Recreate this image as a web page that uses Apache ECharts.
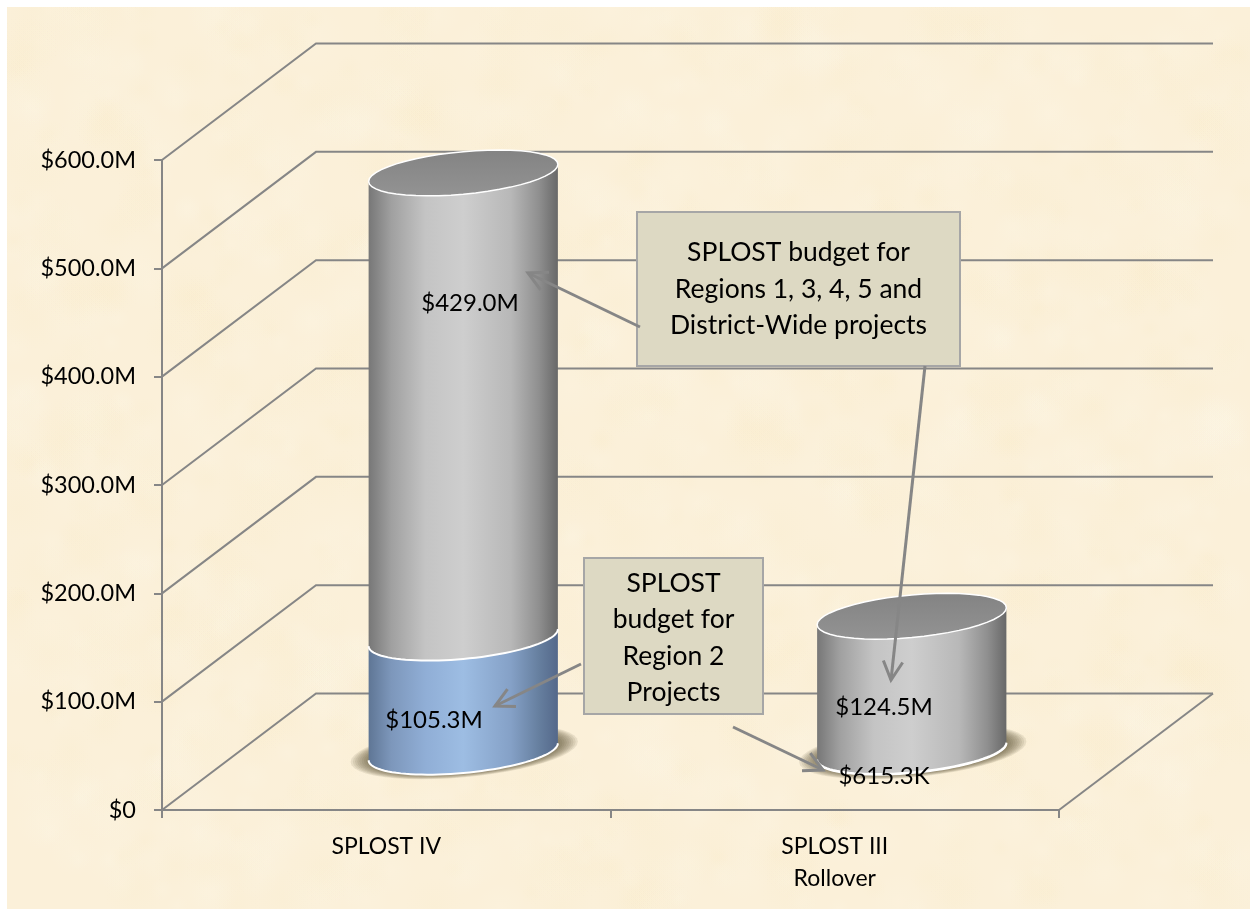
<!DOCTYPE html>
<html>
<head>
<meta charset="utf-8">
<title>SPLOST budget</title>
<script src="https://cdn.jsdelivr.net/npm/echarts@6/dist/echarts.min.js"></script>
<style>
  html, body { margin: 0; background: #fff; }
  #paper { position: absolute; left: 7px; top: 7px; width: 1243px; height: 902px; }
  #main { position: absolute; left: 0; top: 0; width: 1250px; height: 909px; }
</style>
</head>
<body>
<canvas id="paper" width="1243" height="902"></canvas>
<div id="main"></div>
<script>
const categories = ["SPLOST IV", "SPLOST III\nRollover"];
const yTicks = [0, 100, 200, 300, 400, 500, 600];
const lowerValues = [105.3, 0.6153];
const upperValues = [429.0, 124.5];

const FONT = "Lato, 'Open Sans', sans-serif";
const LINE = "#868686";
const DEPTH_X = 154;
const DEPTH_Y = 116.5;

const blueStops = ["#5f7695", "#7d97bb", "#90aed6", "#9dbde3", "#85a1c7", "#667f9f", "#54688a"];
const greyStops = ["#777777", "#a0a0a0", "#c4c4c4", "#cecece", "#b8b8b8", "#8f8f8f", "#686868"];

// parchment background, just faint blotches
function drawPaper() {
  const c = document.getElementById("paper").getContext("2d");
  c.fillStyle = "#fbf0d9";
  c.fillRect(0, 0, 1243, 902);
  let s = 12345;
  const next = () => (s = (s * 1103515245 + 12345) % 2147483648) / 2147483648;
  for (let i = 0; i < 1500; i++) {
    const x = next() * 1243, y = next() * 902, r = 10 + next() * 26;
    const g = c.createRadialGradient(x, y, 0, x, y, r);
    const col = next() > 0.5 ? "248,234,198" : "254,247,232";
    g.addColorStop(0, "rgba(" + col + ",0.16)");
    g.addColorStop(1, "rgba(" + col + ",0)");
    c.fillStyle = g;
    c.fillRect(x - r, y - r, r * 2, r * 2);
  }
}
drawPaper();

function arc(cx, cy, rx, from, to) {
  const pts = [];
  for (let i = 0; i <= 48; i++) {
    const t = from + ((to - from) * i) / 48;
    pts.push([cx + rx * Math.cos(t), cy - rx * 0.09 * Math.cos(t) + rx * 0.225 * Math.sin(t)]);
  }
  return pts;
}

function sideGradient(stops) {
  return {
    type: "linear", x: 0, y: 0, x2: 1, y2: 0,
    colorStops: [0, 0.12, 0.3, 0.5, 0.75, 0.9, 1].map((o, i) => ({ offset: o, color: stops[i] })),
  };
}

// back wall and side wall lines, one per y tick
function renderWall(params, api) {
  const p = api.coord([0, api.value(1)]);
  const x0 = params.coordSys.x;
  const x1 = x0 + params.coordSys.width;
  const children = [{
    type: "polyline",
    shape: { points: [[x0, p[1]], [x0 + DEPTH_X, p[1] - DEPTH_Y], [x1 + DEPTH_X, p[1] - DEPTH_Y]] },
    style: { stroke: LINE, lineWidth: 2, fill: null },
  }];
  if (api.value(1) === 0) {
    children.push({
      type: "line",
      shape: { x1: x1, y1: p[1], x2: x1 + DEPTH_X, y2: p[1] - DEPTH_Y },
      style: { stroke: LINE, lineWidth: 2 },
    });
  }
  return { type: "group", children };
}

function cylinder(stops, withCap) {
  return function (params, api) {
    const cat = api.value(0);
    const a = api.coord([cat, api.value(1)]);
    const b = api.coord([cat, api.value(2)]);
    const cx = a[0] + DEPTH_X / 2;
    const yBottom = a[1] - DEPTH_Y / 2;
    const yTop = b[1] - DEPTH_Y / 2;
    const rx = api.size([1, 0])[0] * 0.211;
    const low = arc(cx, yBottom, rx, 0, Math.PI);
    const high = arc(cx, yTop, rx, Math.PI, 0);
    const children = [];
    if (!withCap) {
      // soft ground shadow, stacked rings instead of a blur
      for (let i = 0; i < 10; i++) {
        children.push({
          type: "polygon",
          shape: { points: arc(cx + 1, yBottom, rx + 19 - i * 2.2, 0, Math.PI * 2) },
          style: { fill: "rgba(80,70,50,0.11)" },
        });
      }
    }
    children.push({
      type: "polygon",
      shape: { points: low.concat(high) },
      style: { fill: sideGradient(stops) },
    });
    children.push({
      type: "polyline",
      shape: { points: low },
      style: { stroke: "#fff", lineWidth: 2, fill: null },
    });
    if (withCap) {
      children.push({
        type: "polygon",
        shape: { points: arc(cx, yTop, rx, 0, Math.PI * 2) },
        style: {
          stroke: "#fff", lineWidth: 1.5,
          fill: {
            type: "linear", x: 0, y: 0, x2: 0, y2: 1,
            colorStops: [{ offset: 0, color: "#838383" }, { offset: 1, color: "#939393" }],
          },
        },
      });
    }
    return { type: "group", children };
  };
}

function calloutBox(x, y, w, h, lines, cy) {
  return [
    { type: "rect", z: 20, shape: { x, y, width: w, height: h }, style: { fill: "#ddd9c3", stroke: "#a6a6a6", lineWidth: 2 } },
    {
      type: "text", z: 21, x: x + w / 2, y: cy,
      style: { text: lines.join("\n"), font: "26.5px " + FONT, fill: "#000", align: "center", verticalAlign: "middle", lineHeight: 36.5 },
    },
  ];
}

function arrow(x1, y1, x2, y2) {
  const ang = Math.atan2(y2 - y1, x2 - x1);
  const head = (d) => [x2 - 21 * Math.cos(ang + d), y2 - 21 * Math.sin(ang + d)];
  const style = { stroke: LINE, lineWidth: 3, fill: null };
  return [
    { type: "line", z: 30, shape: { x1, y1, x2, y2 }, style },
    { type: "polyline", z: 30, shape: { points: [head(0.48), [x2, y2], head(-0.48)] }, style },
  ];
}

function valueText(text, x, y) {
  return { type: "text", z: 40, x, y, style: { text, font: "24px " + FONT, fill: "#000", align: "center", verticalAlign: "middle" } };
}

const chart = echarts.init(document.getElementById("main"));
chart.setOption({
  backgroundColor: "transparent",
  animation: false,
  grid: { left: 162, top: 160, width: 897, height: 650 },
  xAxis: {
    type: "category",
    data: categories,
    axisLine: { lineStyle: { color: LINE, width: 2 } },
    axisTick: { show: true, length: 8, lineStyle: { color: LINE, width: 2 } },
    axisLabel: { color: "#000", fontFamily: FONT, fontSize: 23, margin: 21, lineHeight: 32 },
  },
  yAxis: {
    type: "value",
    min: 0,
    max: 600,
    interval: 100,
    axisLine: { show: true, lineStyle: { color: LINE, width: 2 } },
    axisTick: { show: true, length: 8, lineStyle: { color: LINE, width: 2 } },
    splitLine: { show: false },
    axisLabel: {
      color: "#000", fontFamily: FONT, fontSize: 23.5, margin: 26,
      formatter: (v) => (v === 0 ? "$0" : "$" + v.toFixed(1) + "M"),
    },
  },
  series: [
    {
      type: "custom", z: 1, renderItem: renderWall,
      data: yTicks.map((t) => [0, t]),
      encode: { x: 0, y: 1 },
    },
    {
      type: "custom", z: 3, renderItem: cylinder(greyStops, true),
      data: upperValues.map((v, i) => [i, lowerValues[i], lowerValues[i] + v]),
      encode: { x: 0, y: 2 },
    },
    {
      type: "custom", z: 2, renderItem: cylinder(blueStops, false),
      data: lowerValues.map((v, i) => [i, 0, v]),
      encode: { x: 0, y: 2 },
    },
  ],
  graphic: [
    ...calloutBox(637, 212, 323, 154, ["SPLOST budget for", "Regions 1, 3, 4, 5 and", "District-Wide projects"], 289),
    ...calloutBox(584, 558, 179, 156, ["SPLOST", "budget for", "Region 2", "Projects"], 638),
    ...arrow(640, 327, 528, 273),
    ...arrow(925, 366, 891, 680),
    ...arrow(581, 664, 495, 706),
    ...arrow(733, 727, 823, 770),
    valueText("$429.0M", 470, 303),
    valueText("$105.3M", 434, 720),
    valueText("$124.5M", 884, 707),
    valueText("$615.3K", 884, 776),
  ],
});
</script>
</body>
</html>
